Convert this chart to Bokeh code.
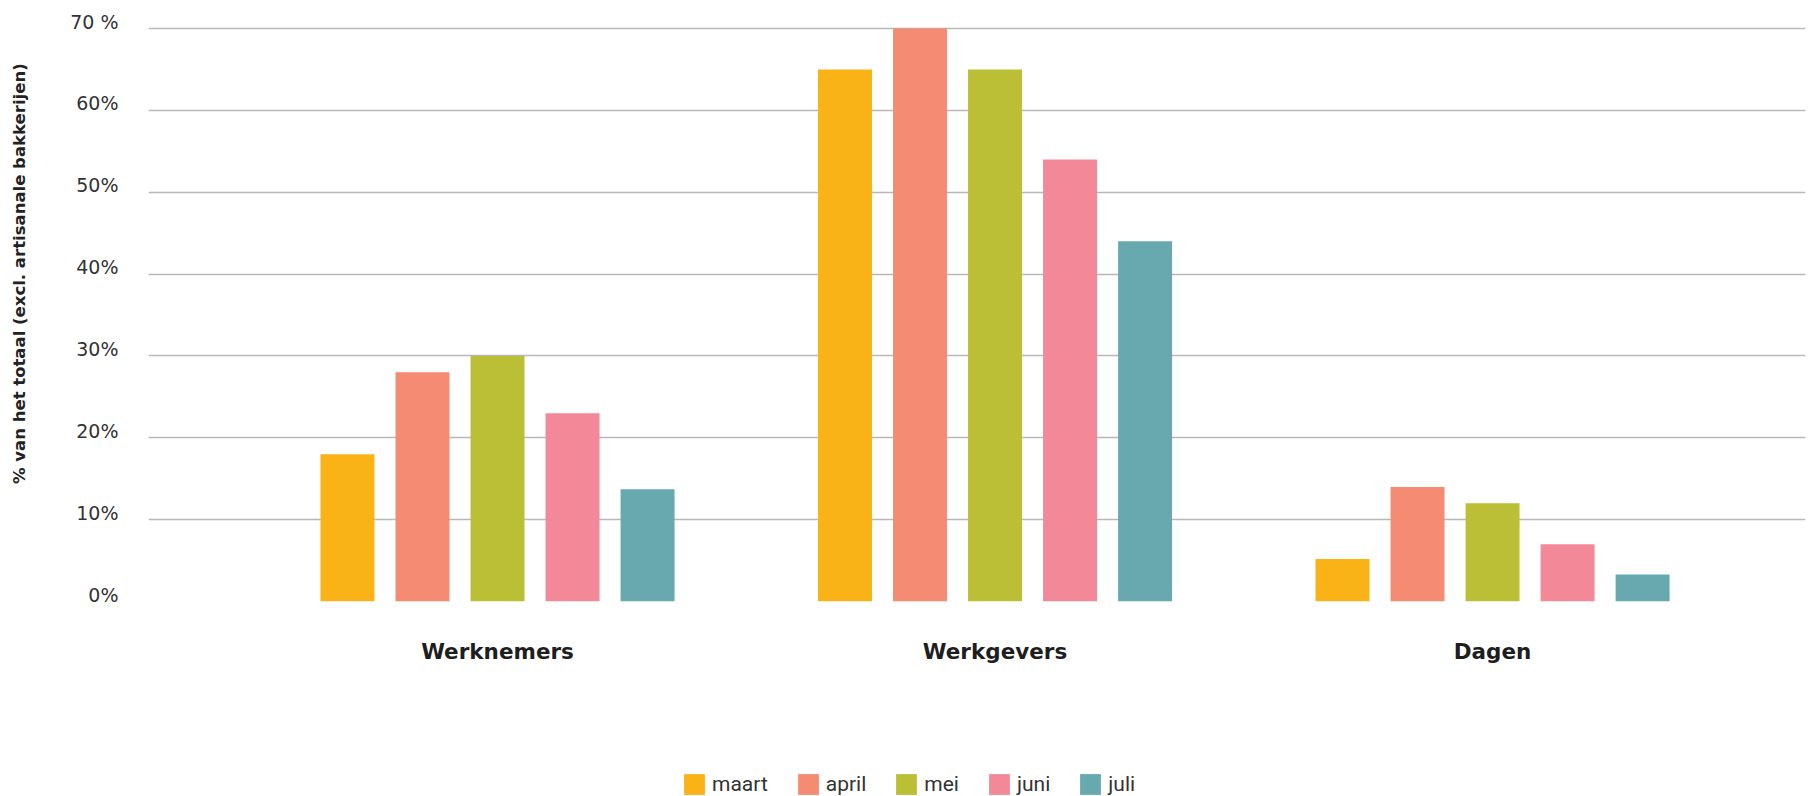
import numpy as np
from bokeh.plotting import figure
from bokeh.layouts import column
from bokeh.models import (ColumnDataSource, FixedTicker, Range1d, LinearAxis,
                          Grid, Legend, LegendItem)
from bokeh.embed import file_html
from bokeh.resources import INLINE

# ---- data ----
categories = ["Werknemers", "Werkgevers", "Dagen"]
months = ["maart", "april", "mei", "juni", "juli"]
maart = [18, 65, 5.2]
april = [28, 70, 14]
mei = [30, 65, 12]
juni = [23, 54, 7]
juli = [13.7, 44, 3.3]
series = [maart, april, mei, juni, juli]
colors = ["#F9B317", "#F58B72", "#BBBF35", "#F38898", "#68A9B0"]
y_ticks = [0, 10, 20, 30, 40, 50, 60, 70]
y_tick_labels = ["0%", "10%", "20%", "30%", "40%", "50%", "60%", "70 %"]
y_title = "% van het totaal (excl.  artisanale bakkerijen)"

W = 1808
H_MAIN = 756
H_LEG = 40

# ---- main figure ----
px_per_unit = 573 / 70.0
y_end = 70 + 8 / px_per_unit
p = figure(width=W, height=H_MAIN,
           x_range=Range1d(0.2985, 3.629), y_range=Range1d(0, y_end),
           output_backend="svg", toolbar_location=None,
           y_axis_location=None,
           min_border_left=148, min_border_right=3,
           min_border_top=20, min_border_bottom=155)
p.outline_line_color = None
p.background_fill_color = "white"
p.border_fill_color = "white"

pitch = 0.1508
bar_w = 0.1085
cat_x = np.arange(1, len(categories) + 1)
for j, (name, vals, col) in enumerate(zip(months, series, colors)):
    src = ColumnDataSource(dict(x=cat_x + (j - 2) * pitch, top=vals))
    p.vbar(x="x", top="top", width=bar_w, bottom=0, source=src,
           fill_color=col, line_color=None)

# y axis: labels sit just above their grid lines
shift = 7 / px_per_unit
p.extra_y_ranges = {"lab": Range1d(-shift, y_end - shift)}
yax = LinearAxis(y_range_name="lab", ticker=FixedTicker(ticks=y_ticks))
yax.major_label_overrides = {t: l for t, l in zip(y_ticks, y_tick_labels)}
yax.axis_line_color = None
yax.major_tick_line_color = None
yax.minor_tick_line_color = None
yax.major_label_standoff = 24
yax.major_label_text_font = "DejaVu Sans"
yax.major_label_text_font_size = "19px"
yax.major_label_text_color = "#333333"
yax.axis_label = "\u00a0" * 14 + y_title
yax.axis_label_standoff = 38
yax.axis_label_text_font = "DejaVu Sans"
yax.axis_label_text_font_style = "bold"
yax.axis_label_text_font_size = "16.5px"
yax.axis_label_text_color = "#222222"
p.add_layout(yax, "left")

# x axis
p.xaxis.ticker = FixedTicker(ticks=list(cat_x))
p.xaxis.major_label_overrides = {int(i): c for i, c in zip(cat_x, categories)}
p.xaxis.axis_line_color = None
p.xaxis.major_tick_line_color = None
p.xaxis.minor_tick_line_color = None
p.xaxis.major_label_standoff = 31
p.xaxis.major_label_text_font = "DejaVu Sans"
p.xaxis.major_label_text_font_style = "bold"
p.xaxis.major_label_text_font_size = "21.5px"
p.xaxis.major_label_text_color = "#1e1e1e"

# grid
p.xgrid.grid_line_color = None
p.add_layout(Grid(dimension=1, ticker=FixedTicker(ticks=y_ticks),
                  grid_line_color="#b8b8b8", grid_line_width=1.5))

# ---- legend strip ----
lf = figure(width=W, height=H_LEG, x_range=Range1d(0, 1), y_range=Range1d(0, 1),
            output_backend="svg", toolbar_location=None,
            x_axis_location=None, y_axis_location=None,
            min_border_left=0, min_border_right=0,
            min_border_top=0, min_border_bottom=0)
lf.outline_line_color = None
lf.xgrid.grid_line_color = None
lf.ygrid.grid_line_color = None
items = []
for name, vals, col in zip(months, series, colors):
    r = lf.vbar(x=cat_x, top=vals, width=0.1, fill_color=col,
                line_color=None, visible=False)
    items.append(LegendItem(label=name, renderers=[r]))
lg = Legend(items=items, orientation="horizontal", location=(533, -1),
            glyph_width=26, glyph_height=26, label_standoff=5, spacing=27,
            padding=0, margin=0, border_line_color=None,
            background_fill_alpha=0,
            label_text_font="Roboto",
            label_text_font_size="21px", label_text_color="#333333")
lf.add_layout(lg, "center")

layout = column(p, lf, spacing=0)
open("out.html", "w").write(file_html(layout, INLINE))
